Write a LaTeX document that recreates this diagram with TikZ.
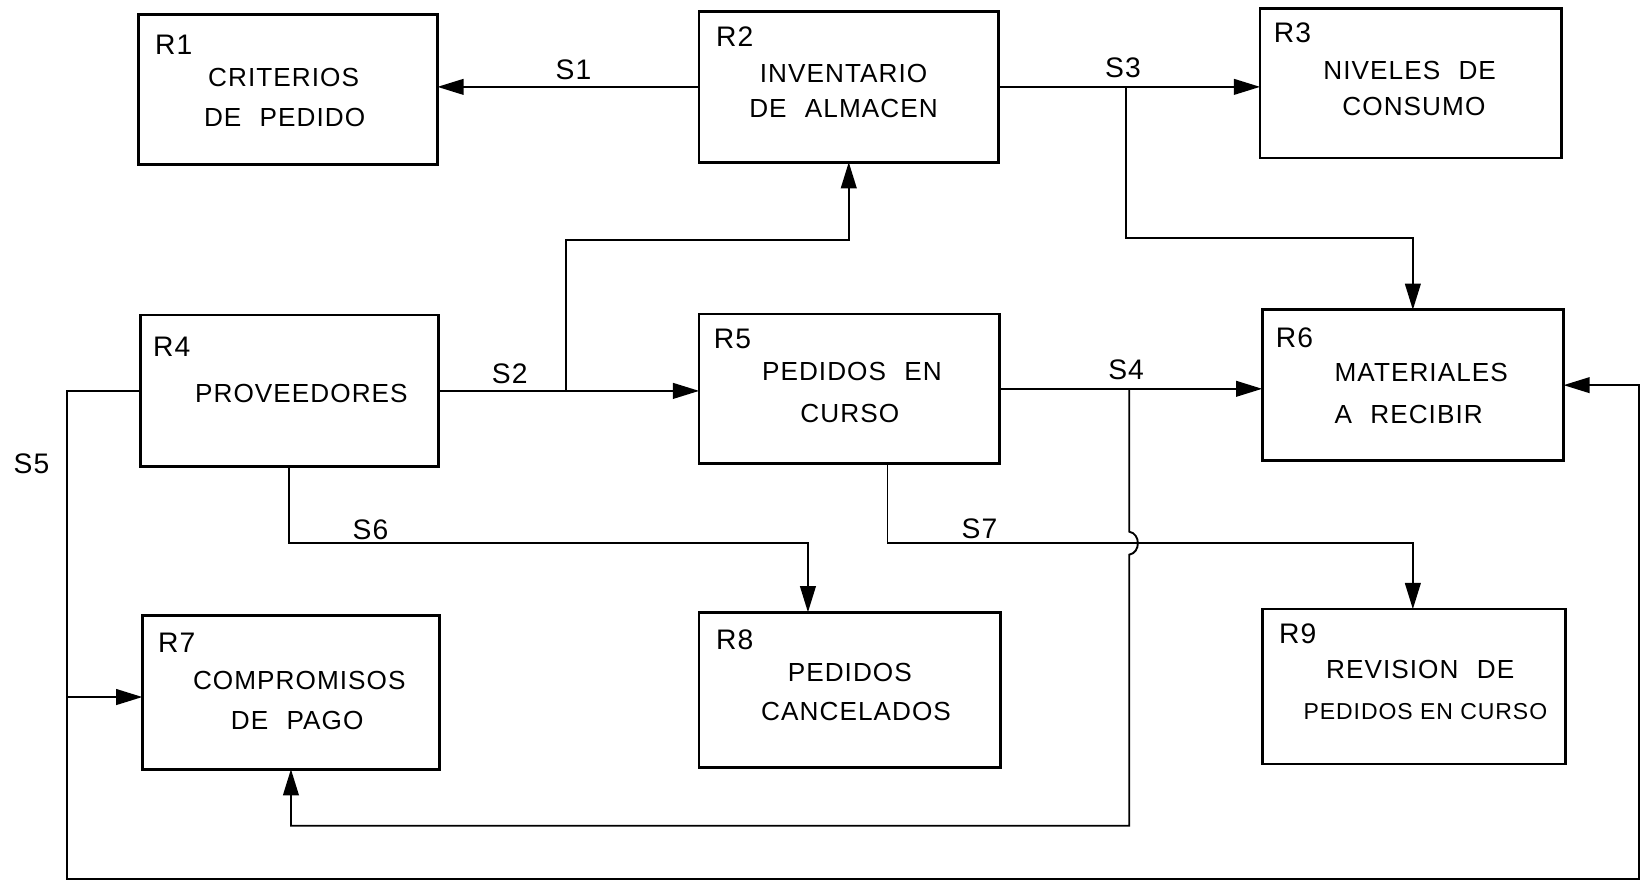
\documentclass[tikz,border=0pt]{standalone}
\usepackage{fontspec}
\setmainfont{Liberation Sans}[LetterSpace=4]
\usetikzlibrary{arrows.meta}
\newcommand{\wsp}{\hspace{0.7em}}
\begin{document}
\begin{tikzpicture}[x=0.5pt,y=-0.5pt,
  box/.style={draw, line width=1.3pt, inner sep=0pt, outer sep=0pt},
  conn/.style={line width=0.9pt},
  arr/.style={conn, -{Triangle[length=12.5pt,width=7.5pt]}},
  tag/.style={font=\fontsize{13.5}{15}\selectfont, inner sep=0pt},
  txt/.style={font=\fontsize{12.5}{14}\selectfont, inner sep=0pt},
  sig/.style={font=\fontsize{13.5}{15}\selectfont, inner sep=0pt}]
\useasboundingbox (0,0) rectangle (1568,843);
% boxes
\node[box, minimum width=143pt, minimum height=71.5pt] (r1) at (275,85.5) {};
\node[box, minimum width=143pt, minimum height=72pt] (r2) at (811,83) {};
\node[box, minimum width=144pt, minimum height=71.5pt] (r3) at (1348,79.5) {};
\node[box, minimum width=142.5pt, minimum height=72.5pt] (r4) at (276.5,373.5) {};
\node[box, minimum width=143.5pt, minimum height=71.5pt] (r5) at (811.5,371.5) {};
\node[box, minimum width=144pt, minimum height=72pt] (r6) at (1350,368) {};
\node[box, minimum width=142pt, minimum height=73.5pt] (r7) at (278,661.5) {};
\node[box, minimum width=144pt, minimum height=74pt] (r8) at (812,659) {};
\node[box, minimum width=145pt, minimum height=74pt] (r9) at (1351,656) {};
% tags
\node[tag] (t1) at (166,43) {R1};
\node[tag] (t2) at (702,35) {R2};
\node[tag] (t3) at (1235,31) {R3};
\node[tag] (t4) at (164,331) {R4};
\node[tag] (t5) at (700,324) {R5};
\node[tag] (t6) at (1237,323) {R6};
\node[tag] (t7) at (169,614) {R7};
\node[tag] (t8) at (702,611) {R8};
\node[tag] (t9) at (1240,606) {R9};
% texts
\node[txt] (a1) at (271,74) {CRITERIOS};
\node[txt] (b1) at (272,112) {DE\wsp PEDIDO};
\node[txt] (a2) at (806,70) {INVENTARIO};
\node[txt] (b2) at (806,104) {DE\wsp ALMACEN};
\node[txt] (a3) at (1347,67) {NIVELES\wsp DE};
\node[txt] (b3) at (1351,102) {CONSUMO};
\node[txt] (a4) at (288,376) {PROVEEDORES};
\node[txt] (a5) at (814,355) {PEDIDOS\wsp EN};
\node[txt] (b5) at (812,395) {CURSO};
\node[txt] (a6) at (1358,356) {MATERIALES};
\node[txt] (b6) at (1346,396) {A\wsp RECIBIR};
\node[txt] (a7) at (286,650) {COMPROMISOS};
\node[txt] (b7) at (284,688) {DE\wsp PAGO};
\node[txt] (a8) at (812,643) {PEDIDOS};
\node[txt] (b8) at (818,680) {CANCELADOS};
\node[txt] (a9) at (1357,640) {REVISION\wsp DE};
\node[txt, font=\fontsize{11}{12}\selectfont] (b9) at (1362,680) {PEDIDOS EN CURSO};
% signal labels
\node[sig] (s1) at (548,67) {S1};
\node[sig] (s2) at (487,357) {S2};
\node[sig] (s3) at (1073,65) {S3};
\node[sig] (s4) at (1076,353) {S4};
\node[sig] (s5) at (30,443) {S5};
\node[sig] (s6) at (354,506) {S6};
\node[sig] (s7) at (936,505) {S7};
% junction coordinates
\coordinate (j2) at (541,373.5);
\coordinate (j2u) at (541,229);
\coordinate (j3) at (1076,83);
\coordinate (j3d) at (1076,227);
\coordinate (j4) at (1079,371.5);
\coordinate (h1) at (1079,508);
\coordinate (h2) at (1079,530);
\coordinate (j4d) at (1079,789);
\coordinate (l5) at (64,840);
\coordinate (r5c) at (1566,840);
\coordinate (j5) at (64,666);
\coordinate (s6x) at (276.5,519);
\coordinate (s6c) at (772,519);
\coordinate (s7t) at (848,443);
\coordinate (s7c) at (1350,519);
% connectors
\draw[arr] (r2.west) -- (r2.west -| r1.east);
\draw[arr] (r4.east) -- (r4.east -| r5.west);
\draw[arr] (j2) -- (j2u) -| (r2.south);
\draw[arr] (r2.east) -- (r2.east -| r3.west);
\draw[arr] (j3) -- (j3d) -| (r6.north);
\draw[arr] (r5.east) -- (r5.east -| r6.west);
\draw[arr] (j4) -- (h1) .. controls +(11,2) and +(11,-2) .. (h2) -- (j4d) -| (r7.south);
\draw[arr] (r4.west) -| (l5) -- (r5c) |- (r6.east);
\draw[arr] (j5) -- (j5 -| r7.west);
\draw[arr] (r4.south) -- (s6x) -- (s6c) -- (s6c |- r8.north);
\draw[arr] (s7t) |- (s7c) -- (s7c |- r9.north);
\end{tikzpicture}
\end{document}
